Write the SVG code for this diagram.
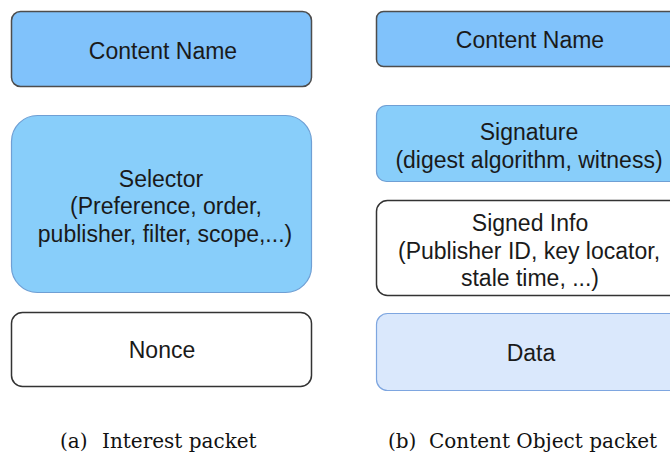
<svg xmlns="http://www.w3.org/2000/svg" width="670" height="455" viewBox="0 0 670 455">
<style>
.lbl{font-family:"Liberation Sans",Arial,sans-serif;font-size:23px;fill:#1a1a1a;text-anchor:middle}
.cap{font-family:"DejaVu Serif","Liberation Serif",serif;font-size:20px;fill:#111}
.dark{fill:#80c2fb;stroke:#4d4d4d;stroke-width:1.5}
.sky{fill:#88cefa;stroke:#6f9fd4;stroke-width:1.2}
.white{fill:#ffffff;stroke:#333333;stroke-width:1.5}
.data{fill:#dae8fc;stroke:#7ea6e0;stroke-width:1.2}
</style>
<rect width="670" height="455" fill="#ffffff"/>
<g id="connectors"></g>
<g id="interest-content-name">
<rect class="dark" x="11.5" y="11.5" width="300" height="75" rx="9"/>
<text class="lbl" x="163" y="59">Content Name</text>
</g>
<g id="interest-selector">
<rect class="sky" x="11.5" y="115.5" width="300" height="177" rx="26"/>
<text class="lbl" x="161" y="187">Selector</text>
<text class="lbl" x="166" y="214">(Preference, order,</text>
<text class="lbl" x="165" y="242">publisher, filter, scope,...)</text>
</g>
<g id="interest-nonce">
<rect class="white" x="11.5" y="312.5" width="300" height="74" rx="11"/>
<text class="lbl" x="162" y="358">Nonce</text>
</g>
<g id="co-content-name">
<rect class="dark" x="376.5" y="11.5" width="308" height="55" rx="7"/>
<text class="lbl" x="530" y="48">Content Name</text>
</g>
<g id="co-signature">
<rect class="sky" x="376.5" y="105.5" width="308" height="76" rx="10"/>
<text class="lbl" x="529" y="140">Signature</text>
<text class="lbl" x="529" y="168">(digest algorithm, witness)</text>
</g>
<g id="co-signed-info">
<rect class="white" x="376.5" y="200.5" width="308" height="95" rx="11"/>
<text class="lbl" x="530" y="231">Signed Info</text>
<text class="lbl" x="529" y="259">(Publisher ID, key locator,</text>
<text class="lbl" x="530" y="286">stale time, ...)</text>
</g>
<g id="co-data">
<rect class="data" x="376.5" y="313.5" width="308" height="77" rx="11"/>
<text class="lbl" x="531" y="361">Data</text>
</g>
<g id="captions">
<text class="cap" x="60" y="448">(a)</text>
<text class="cap" x="102" y="448">Interest packet</text>
<text class="cap" x="388" y="448">(b)</text>
<text class="cap" x="429" y="448">Content Object packet</text>
</g>
</svg>
